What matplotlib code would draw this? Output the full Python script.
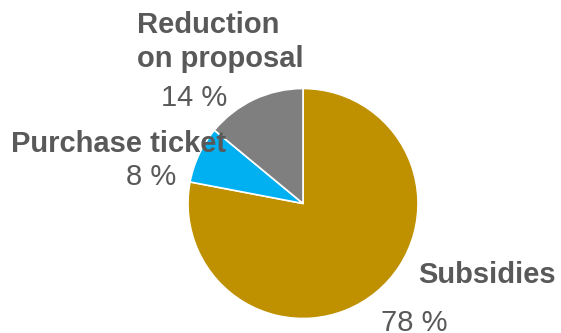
import matplotlib.pyplot as plt

# Data -----
labels = ['Subsidies', 'Purchase ticket', 'Reduction\non proposal']
shares = [78, 8, 14]
colors = ['#BF9000', '#00B0F0', '#7F7F7F']

TEXT_COLOR = '#595959'
W, H = 561, 333

plt.rcParams['font.family'] = ['Liberation Sans', 'DejaVu Sans']

fig = plt.figure(figsize=(W / 100, H / 100), dpi=100)
ax = fig.add_axes([0, 0, 1, 1])

# Pie, clockwise from 12 o'clock.
ax.pie(shares, colors=colors, startangle=90, counterclock=False,
       center=(303, H - 203.5), radius=115, frame=True,
       wedgeprops={'edgecolor': 'white', 'linewidth': 1.2})
ax.set_xlim(0, W)
ax.set_ylim(0, H)
ax.set_aspect('equal')
ax.axis('off')


def label(x, y_px, s, bold=True):
    # y given from the top of the image, baseline anchored.
    ax.text(x, H - y_px, s, ha='left', va='baseline', fontsize=21,
            color=TEXT_COLOR, fontweight='bold' if bold else 'normal')


# Labels -----
name_lines = labels[2].split('\n')
label(137, 33, name_lines[0])
label(137, 67, name_lines[1])
label(161, 106, f'{shares[2]} %', bold=False)

label(11, 152, labels[1])
label(126, 185, f'{shares[1]} %', bold=False)

label(418, 283, labels[0])
label(381, 331, f'{shares[0]} %', bold=False)

fig.savefig('out.png', dpi=100)
